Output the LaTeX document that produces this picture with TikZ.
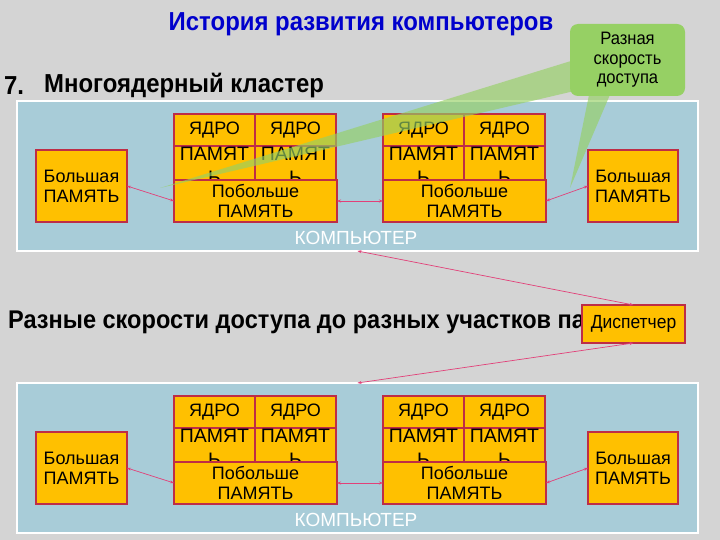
\documentclass[tikz,border=0pt]{standalone}
\usepackage{fontspec}
\setmainfont{Liberation Sans}
\newfontfamily\headfont[FakeStretch=0.92]{Liberation Sans}
\usetikzlibrary{arrows.meta}
\definecolor{bggray}{RGB}{212,212,212}
\definecolor{panelblue}{RGB}{168,204,216}
\definecolor{boxfill}{RGB}{255,192,0}
\definecolor{boxline}{RGB}{190,45,70}
\definecolor{connpink}{RGB}{226,64,120}
\definecolor{callgreen}{RGB}{150,208,100}
\definecolor{titleblue}{RGB}{0,0,204}
\tikzset{
  panel/.style={draw=white, line width=2pt, fill=panelblue, anchor=north west, inner sep=0pt, outer sep=0pt},
  box/.style={draw=boxline, line width=1.6pt, fill=boxfill, anchor=north west, inner sep=0pt, outer sep=0pt, align=center, font=\fontsize{18}{20}\selectfont},
  celltext/.style={anchor=north, inner sep=0pt, align=center, font=\fontsize{19.5}{24}\selectfont},
  conn/.style={draw=connpink, line width=0.7pt, {Stealth[length=4pt,width=3pt]}-{Stealth[length=4pt,width=3pt]}},
  heading/.style={inner sep=0pt, font=\headfont\bfseries\fontsize{26}{30}\selectfont},
  wedge/.style={fill=callgreen, fill opacity=0.65, draw=none},
  pcwhite/.style={text=white, inner sep=0pt, font=\fontsize{19}{21}\selectfont}
}
\begin{document}
\begin{tikzpicture}[x=1pt,y=-1pt]
\fill[bggray] (0,0) rectangle (720,540);
\useasboundingbox (0,0) rectangle (720,540);

% headings
\node[heading, text=titleblue] (title) at (361,24) {История развития компьютеров};
\node[heading, anchor=west] (seven) at (4,86) {7.};
\node[heading, anchor=west] (cluster) at (44,86) {Многоядерный кластер};
\node[heading, anchor=west, font=\headfont\bfseries\fontsize{25.6}{30}\selectfont] (speeds) at (8,322) {Разные скорости доступа до разных участков па};

% two computers
\foreach \dy/\p in {0/1,282/2}{
  \node[panel, minimum width=681, minimum height=150] (panel\p) at (17,101+\dy) {};
  \node[pcwhite] (pc\p) at (356,238+\dy) {КОМПЬЮТЕР};
  \node[box, minimum width=91, minimum height=72] (bl\p) at (36,150+\dy) {Большая\\ПАМЯТЬ};
  \node[box, minimum width=90, minimum height=72] (br\p) at (588,150+\dy) {Большая\\ПАМЯТЬ};
  \foreach \cx/\c in {174/a,255/b,383/c,464/d}{
    \node[box, minimum width=81, minimum height=32] (core\p\c) at (\cx,114+\dy) {ЯДРО};
    \node[box, minimum width=81, minimum height=34] (mem\p\c) at (\cx,146+\dy) {};
    \begin{scope}
      \clip (mem\p\c.north west) rectangle (mem\p\c.south east);
      \node[celltext] (memt\p\c) at ([yshift=-1]mem\p\c.north) {ПАМЯТ\\Ь};
    \end{scope}
  }
  \node[box, minimum width=163, minimum height=42] (pba\p) at (174,180+\dy) {Побольше\\ПАМЯТЬ};
  \node[box, minimum width=163, minimum height=42] (pbb\p) at (383,180+\dy) {Побольше\\ПАМЯТЬ};
  \draw[conn] (bl\p.east) -- (pba\p.west);
  \draw[conn] (pba\p.east) -- (pbb\p.west);
  \draw[conn] (pbb\p.east) -- (br\p.west);
}

% callout pointers
\fill[wedge] (600,52) -- (600,85) -- (160,188) -- cycle;
\fill[wedge] (590,90) -- (612,90) -- (570,188) -- cycle;
\node[fill=callgreen, rounded corners=8pt, minimum width=115, minimum height=72, inner sep=0pt, align=center,
      font=\headfont\fontsize{18}{19.5}\selectfont] (callout) at (627.5,60) {Разная\\скорость\\доступа};

% dispatcher
\node[box, anchor=center, minimum width=103, minimum height=38, font=\headfont\fontsize{19}{21}\selectfont] (disp) at (633.5,324) {Диспетчер};
\draw[conn] (panel1.south) -- (disp.north);
\draw[conn] (disp.south) -- (panel2.north);
\end{tikzpicture}
\end{document}
